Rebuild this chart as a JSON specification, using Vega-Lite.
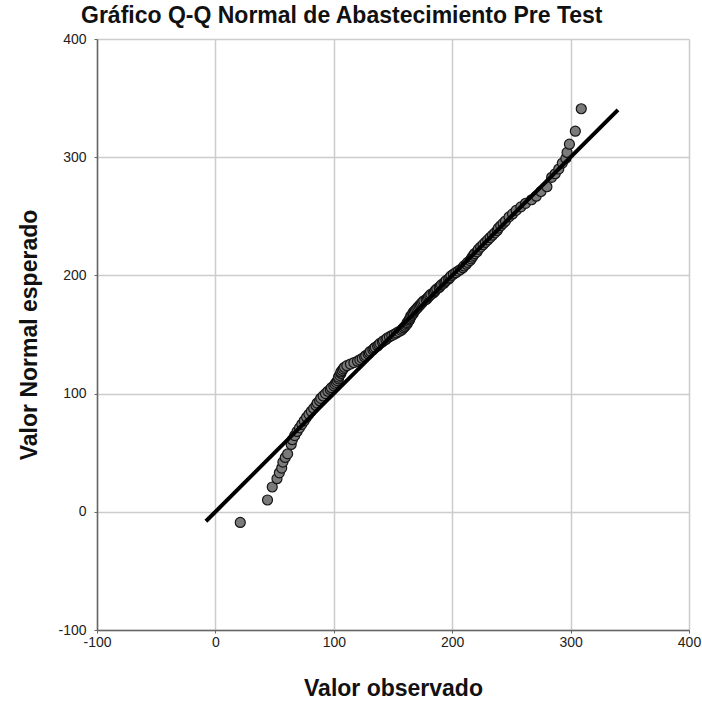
{
  "$schema": "https://vega.github.io/schema/vega-lite/v6.json",
  "width": 592,
  "height": 591,
  "autosize": {"type": "none"},
  "padding": {"left": 97, "top": 39, "right": 13, "bottom": 76},
  "background": "white",
  "config": {
    "font": "Liberation Sans",
    "view": {"stroke": null},
    "axis": {
      "labelFont": "Liberation Sans",
      "labelFontSize": 14,
      "labelColor": "#222222",
      "labelFlush": false,
      "labelExpr": "'' + datum.value",
      "titleFont": "Liberation Sans",
      "titleFontSize": 23,
      "titleFontWeight": "bold",
      "titleColor": "#111111",
      "gridColor": "#cccccc",
      "gridWidth": 1.5,
      "domainColor": "#666666",
      "domainWidth": 1.5,
      "tickColor": "#666666",
      "tickSize": 3
    }
  },
  "title": {
    "text": "Gráfico Q-Q Normal de Abastecimiento Pre Test",
    "anchor": "start",
    "frame": "group",
    "dx": -16,
    "offset": 4,
    "font": "Liberation Sans",
    "fontSize": 23,
    "fontWeight": "bold",
    "color": "#111111"
  },
  "layer": [
    {
      "data": {"values": [
        {"obs": 21, "exp": -9}, {"obs": 44, "exp": 10}, {"obs": 48, "exp": 21}, {"obs": 52, "exp": 28},
        {"obs": 54, "exp": 33}, {"obs": 56, "exp": 37}, {"obs": 57, "exp": 42}, {"obs": 59, "exp": 46},
        {"obs": 61, "exp": 49}, {"obs": 64, "exp": 57},
        {"obs": 65, "exp": 61}, {"obs": 67, "exp": 64.5}, {"obs": 69, "exp": 68}, {"obs": 71, "exp": 71},
        {"obs": 73, "exp": 74}, {"obs": 75, "exp": 77}, {"obs": 77, "exp": 80}, {"obs": 79, "exp": 82.5},
        {"obs": 81, "exp": 85}, {"obs": 83, "exp": 87.5}, {"obs": 85, "exp": 90}, {"obs": 86, "exp": 92},
        {"obs": 88, "exp": 94}, {"obs": 89, "exp": 96}, {"obs": 91, "exp": 98}, {"obs": 93, "exp": 100},
        {"obs": 95, "exp": 102}, {"obs": 97, "exp": 103.5}, {"obs": 98, "exp": 105}, {"obs": 100, "exp": 106.5},
        {"obs": 101, "exp": 108}, {"obs": 102, "exp": 109.5}, {"obs": 103, "exp": 111}, {"obs": 104, "exp": 112.5},
        {"obs": 104, "exp": 114}, {"obs": 105, "exp": 115.5}, {"obs": 106, "exp": 117}, {"obs": 106, "exp": 118.3},
        {"obs": 107, "exp": 119.6}, {"obs": 108, "exp": 121}, {"obs": 109, "exp": 122.3}, {"obs": 111, "exp": 123.6},
        {"obs": 114, "exp": 125}, {"obs": 117, "exp": 126.2}, {"obs": 120, "exp": 127.4}, {"obs": 122, "exp": 128.6},
        {"obs": 124, "exp": 129.8}, {"obs": 126, "exp": 131}, {"obs": 127, "exp": 132.2}, {"obs": 129, "exp": 133.4},
        {"obs": 130, "exp": 134.6}, {"obs": 131, "exp": 135.8}, {"obs": 133, "exp": 137}, {"obs": 134, "exp": 138.1},
        {"obs": 135, "exp": 139.2}, {"obs": 137, "exp": 140.3}, {"obs": 138, "exp": 141.4}, {"obs": 139, "exp": 142.5},
        {"obs": 141, "exp": 143.6}, {"obs": 142, "exp": 144.7}, {"obs": 144, "exp": 145.8}, {"obs": 145, "exp": 146.9},
        {"obs": 147, "exp": 148}, {"obs": 149, "exp": 149.1}, {"obs": 151, "exp": 150.2}, {"obs": 153, "exp": 151.3},
        {"obs": 155, "exp": 152.4}, {"obs": 157, "exp": 153.5}, {"obs": 158, "exp": 154.6}, {"obs": 159, "exp": 155.7},
        {"obs": 160, "exp": 156.8}, {"obs": 161, "exp": 157.9}, {"obs": 162, "exp": 159}, {"obs": 162, "exp": 160.1},
        {"obs": 163, "exp": 161.2}, {"obs": 164, "exp": 162.3}, {"obs": 164, "exp": 163.4}, {"obs": 165, "exp": 164.5},
        {"obs": 165, "exp": 165.6},
        {"obs": 166, "exp": 166.4}, {"obs": 167, "exp": 167.5}, {"obs": 167, "exp": 168.6}, {"obs": 168, "exp": 169.7},
        {"obs": 169, "exp": 170.8}, {"obs": 170, "exp": 171.9}, {"obs": 171, "exp": 173}, {"obs": 172, "exp": 174.1},
        {"obs": 173, "exp": 175.2}, {"obs": 174, "exp": 176.3}, {"obs": 175, "exp": 177.4}, {"obs": 176, "exp": 178.5},
        {"obs": 178, "exp": 179.6}, {"obs": 179, "exp": 180.7}, {"obs": 180, "exp": 181.8}, {"obs": 181, "exp": 182.9},
        {"obs": 182, "exp": 184}, {"obs": 184, "exp": 185.1}, {"obs": 185, "exp": 186.2}, {"obs": 186, "exp": 187.4},
        {"obs": 187, "exp": 188.6}, {"obs": 189, "exp": 189.8}, {"obs": 190, "exp": 191}, {"obs": 191, "exp": 192.2},
        {"obs": 193, "exp": 193.4}, {"obs": 194, "exp": 194.6}, {"obs": 195, "exp": 195.8}, {"obs": 197, "exp": 197},
        {"obs": 198, "exp": 198.2}, {"obs": 199, "exp": 199.6}, {"obs": 201, "exp": 201}, {"obs": 203, "exp": 202.3},
        {"obs": 205, "exp": 203.7}, {"obs": 207, "exp": 205}, {"obs": 209, "exp": 206.5}, {"obs": 210, "exp": 208},
        {"obs": 212, "exp": 209.5}, {"obs": 213, "exp": 211}, {"obs": 215, "exp": 212.5}, {"obs": 216, "exp": 214},
        {"obs": 217, "exp": 215.5}, {"obs": 218, "exp": 217}, {"obs": 219, "exp": 218.5}, {"obs": 221, "exp": 220},
        {"obs": 222, "exp": 222}, {"obs": 224, "exp": 224}, {"obs": 226, "exp": 226}, {"obs": 228, "exp": 228},
        {"obs": 230, "exp": 230}, {"obs": 232, "exp": 232}, {"obs": 234, "exp": 234}, {"obs": 236, "exp": 236},
        {"obs": 238, "exp": 238}, {"obs": 239, "exp": 240}, {"obs": 241, "exp": 242}, {"obs": 243, "exp": 244},
        {"obs": 245, "exp": 246}, {"obs": 248, "exp": 249.5}, {"obs": 251, "exp": 252}, {"obs": 254, "exp": 255},
        {"obs": 258, "exp": 258}, {"obs": 262, "exp": 261}, {"obs": 267, "exp": 264}, {"obs": 271, "exp": 267},
        {"obs": 275, "exp": 271}, {"obs": 280, "exp": 275},
        {"obs": 284, "exp": 283}, {"obs": 287, "exp": 286}, {"obs": 290, "exp": 290}, {"obs": 293, "exp": 295},
        {"obs": 296, "exp": 299}, {"obs": 297, "exp": 304}, {"obs": 299, "exp": 311}, {"obs": 304, "exp": 322},
        {"obs": 309, "exp": 341}
      ]},
      "mark": {"type": "point", "filled": true, "shape": "circle", "size": 100, "fill": "#7a7a7a", "stroke": "#151515", "strokeWidth": 1.2, "opacity": 1, "fillOpacity": 1},
      "encoding": {
        "x": {
          "field": "obs", "type": "quantitative",
          "scale": {"domain": [-100, 400], "nice": false, "zero": false},
          "axis": {"title": "Valor observado", "values": [-100, 0, 100, 200, 300, 400], "titlePadding": 28, "labelPadding": 2}
        },
        "y": {
          "field": "exp", "type": "quantitative",
          "scale": {"domain": [-100, 400], "nice": false, "zero": false},
          "axis": {"title": "Valor Normal esperado", "values": [-100, 0, 100, 200, 300, 400], "titlePadding": 16, "labelPadding": 8, "tickSize": 3}
        }
      }
    },
    {
      "data": {"values": [{"obs": -8, "exp": -8}, {"obs": 340, "exp": 340}]},
      "mark": {"type": "line", "color": "#000000", "strokeWidth": 4, "clip": true},
      "encoding": {
        "x": {"field": "obs", "type": "quantitative"},
        "y": {"field": "exp", "type": "quantitative"}
      }
    }
  ]
}
